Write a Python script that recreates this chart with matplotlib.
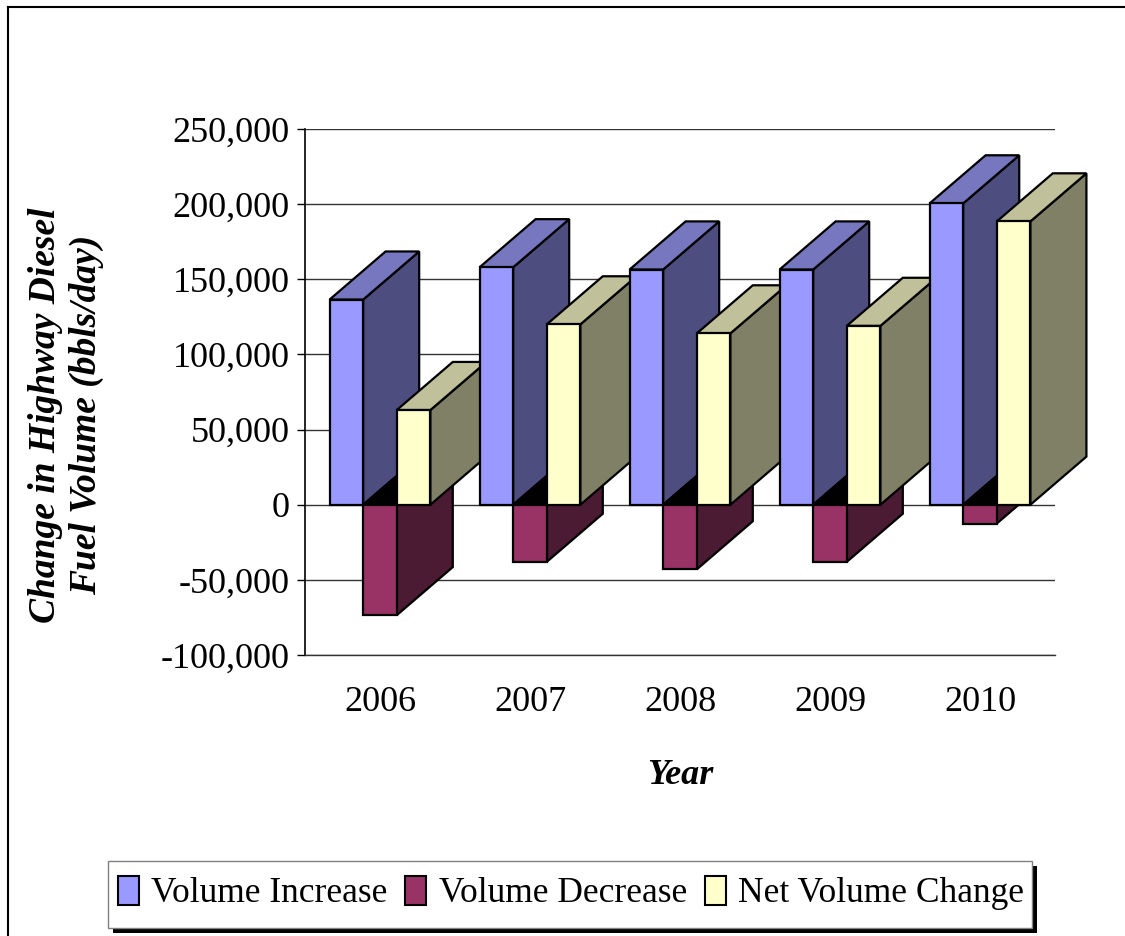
import matplotlib.pyplot as plt
from matplotlib.patches import Polygon, Rectangle, Patch
from matplotlib.lines import Line2D
from matplotlib.ticker import StrMethodFormatter

# data
years = ['2006', '2007', '2008', '2009', '2010']
volume_increase = [136500, 158000, 156500, 156500, 200500]
volume_decrease = [-73500, -38000, -43000, -38000, -12500]
net_change = [63000, 120000, 114000, 119000, 188500]

series = [
    ('Volume Increase', volume_increase, '#9999FF', '#4D4D80', '#7777C0'),
    ('Volume Decrease', volume_decrease, '#993366', '#4B1A33', '#000000'),
    ('Net Volume Change', net_change, '#FFFFCC', '#808066', '#C0C09A'),
]

plt.rcParams['font.family'] = ['Liberation Serif', 'DejaVu Serif']
plt.rcParams['axes.unicode_minus'] = False

fig = plt.figure(figsize=(11.25, 9.36), dpi=100)
ax = fig.add_axes([0.2711, 0.3002, 0.6667, 0.5620])
ax.set_xlim(-0.5, 4.5)
ax.set_ylim(-100000, 250000)

# depth of the fake 3D boxes (in data units of this axes)
DX = 0.3733
DY = 32000
w = 0.224

ax.set_yticks(range(-100000, 250001, 50000))
ax.yaxis.set_major_formatter(StrMethodFormatter('{x:,.0f}'))
ax.tick_params(axis='y', labelsize=26, length=6, width=1, pad=5)
ax.set_xticks(range(len(years)))
ax.set_xticklabels(years)
ax.tick_params(axis='x', labelsize=26, length=0, pad=22)
for s in ['top', 'right']:
    ax.spines[s].set_visible(False)
ax.spines['left'].set_linewidth(1.2)
ax.spines['bottom'].set_linewidth(1)
ax.spines['bottom'].set_color('#333333')
ax.yaxis.grid(True, color='#333333', linewidth=1)
ax.set_axisbelow(True)

edge = dict(edgecolor='black', linewidth=1.6, clip_on=False, joinstyle='miter')
for i in range(len(years)):
    for j, (name, vals, front, side, top) in enumerate(series):
        v = vals[i]
        x0 = i - 1.5 * w + j * w
        x1 = x0 + w
        lo, hi = min(v, 0), max(v, 0)
        ax.add_patch(Polygon([(x1, lo), (x1, hi), (x1 + DX, hi + DY), (x1 + DX, lo + DY)],
                             facecolor=side, **edge))
        ax.add_patch(Polygon([(x0, hi), (x1, hi), (x1 + DX, hi + DY), (x0 + DX, hi + DY)],
                             facecolor=top, **edge))
        ax.add_patch(Rectangle((x0, lo), w, hi - lo, facecolor=front, **edge))

ax.set_xlabel('Year', fontsize=26, fontweight='bold', fontstyle='italic', labelpad=29)
fig.text(66 / 1125, 1 - 415 / 936, 'Change in Highway Diesel\nFuel Volume (bbls/day)',
         rotation=90, ha='center', va='center', multialignment='center',
         fontsize=27, fontweight='bold', fontstyle='italic', linespacing=1.25)

# outer frame
fig.add_artist(Line2D([8 / 1125, 8 / 1125], [0, 1 - 7 / 936], color='black', lw=1.5))
fig.add_artist(Line2D([8 / 1125, 1], [1 - 7 / 936, 1 - 7 / 936], color='black', lw=1.5))

# legend box with shadow
fig.add_artist(Rectangle((113 / 1125, 3 / 936), 924 / 1125, 67 / 936,
                         facecolor='black', edgecolor='none'))
fig.add_artist(Rectangle((108 / 1125, 8 / 936), 924 / 1125, 67 / 936,
                         facecolor='white', edgecolor='#808080', linewidth=1))
handles = [Patch(facecolor=s[2], edgecolor='black', linewidth=1.5) for s in series]
fig.legend(handles, [s[0] for s in series], loc='center',
           bbox_to_anchor=(571 / 1125, 43 / 936), ncol=3, frameon=False,
           fontsize=25.5, handlelength=0.6, handleheight=0.9,
           handletextpad=0.35, columnspacing=0.5)

fig.savefig('out.png', dpi=100)
